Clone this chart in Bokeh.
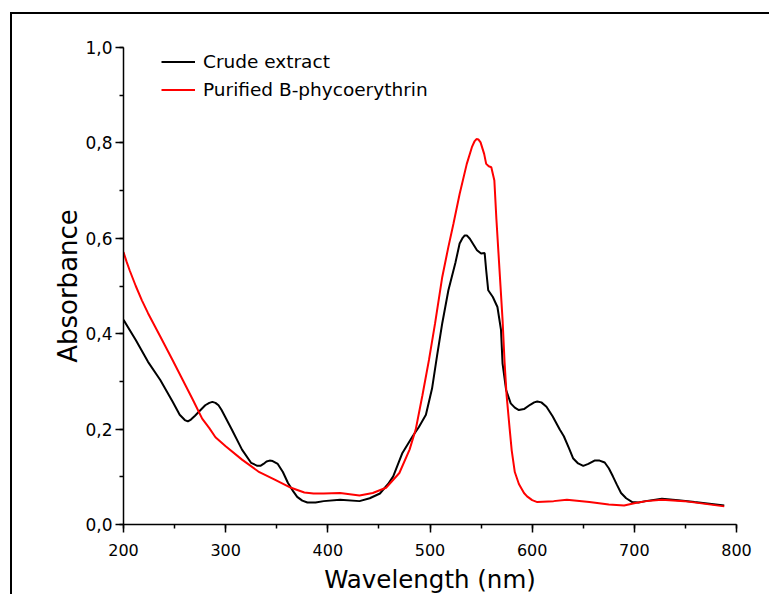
from bokeh.plotting import figure
from bokeh.models import Range1d, SingleIntervalTicker, CustomJSTickFormatter, Legend, LegendItem
from bokeh.embed import file_html
from bokeh.resources import INLINE

# Crude extract spectrum
crude_nm = [200, 212, 224, 236, 248, 255, 260, 263, 266, 270, 274, 280, 284, 287, 290, 293, 296, 306,
            316, 325, 331, 334, 337, 340, 343, 346, 351, 356, 361, 366, 370, 375, 380, 388, 396, 412,
            431, 441, 451, 459, 464, 473, 483, 489, 496, 502, 507, 512, 518, 525, 529, 532, 534, 536,
            539, 546, 550, 553.5, 555, 557, 561.5, 566, 569.5, 571, 574.5, 579, 583, 587, 592, 598,
            602, 605, 609, 614, 620, 627, 631, 636, 640, 645, 650, 655, 661, 666, 671, 675, 679, 683,
            687, 692, 698, 704, 711, 727, 743, 759, 788]
crude_abs = [0.429, 0.387, 0.341, 0.303, 0.258, 0.230, 0.219, 0.216, 0.220, 0.228, 0.237, 0.250, 0.255,
             0.257, 0.255, 0.250, 0.240, 0.199, 0.157, 0.129, 0.123, 0.123, 0.127, 0.132, 0.134,
             0.133, 0.127, 0.110, 0.087, 0.070, 0.058, 0.050, 0.046, 0.046, 0.049, 0.052, 0.049,
             0.055, 0.065, 0.085, 0.101, 0.150, 0.185, 0.204, 0.230, 0.285, 0.355, 0.422, 0.491,
             0.550, 0.589, 0.601, 0.606, 0.606, 0.599, 0.575, 0.568, 0.569, 0.533, 0.491, 0.477,
             0.456, 0.408, 0.338, 0.282, 0.254, 0.245, 0.240, 0.242, 0.251, 0.256, 0.258, 0.256,
             0.247, 0.227, 0.199, 0.185, 0.160, 0.139, 0.128, 0.123, 0.127, 0.134, 0.134, 0.130,
             0.118, 0.101, 0.083, 0.066, 0.055, 0.047, 0.046, 0.049, 0.054, 0.051, 0.047, 0.040]

# Purified B-phycoerythrin spectrum
pure_nm = [200, 203, 206, 212, 218, 224, 236, 248, 258, 268, 277, 284, 290, 300, 316, 332, 348, 364, 377,
           386, 396, 412, 431, 444, 457, 470, 480, 486, 492.5, 499, 505, 512, 518, 523, 529, 536, 541,
           543.5, 545.5, 547.5, 549.5, 553, 555, 557.5, 560, 563, 565, 567, 569, 571, 573, 575, 578,
           580, 583, 587, 592, 595, 600, 605, 621, 634, 656, 675, 690, 701, 712, 727, 749, 788]
pure_abs = [0.571, 0.551, 0.533, 0.500, 0.470, 0.443, 0.394, 0.345, 0.303, 0.261, 0.222, 0.202, 0.183,
            0.164, 0.136, 0.111, 0.094, 0.077, 0.067, 0.065, 0.065, 0.066, 0.061, 0.066, 0.077,
            0.108, 0.157, 0.199, 0.270, 0.345, 0.422, 0.519, 0.582, 0.631, 0.693, 0.756, 0.791,
            0.803, 0.808, 0.807, 0.801, 0.777, 0.756, 0.751, 0.749, 0.721, 0.640, 0.570, 0.500,
            0.430, 0.340, 0.270, 0.200, 0.155, 0.110, 0.085, 0.066, 0.059, 0.051, 0.047, 0.049,
            0.052, 0.047, 0.042, 0.040, 0.045, 0.049, 0.052, 0.049, 0.038]

series_names = ["Crude extract", "Purified B-phycoerythrin"]
x_label = "Wavelength (nm)"
y_label = "Absorbance"

FONT = "DejaVu Sans"

p = figure(width=759, height=582, output_backend="svg", toolbar_location=None,
           x_range=Range1d(200, 800), y_range=Range1d(0, 1.0),
           min_border_left=111, min_border_right=35, min_border_top=33, min_border_bottom=71)
p.styles = {"border-left": "2px solid black", "border-top": "2px solid black",
            "margin-left": "10px", "margin-top": "12px"}
p.outline_line_color = None
p.xgrid.visible = False
p.ygrid.visible = False

r1 = p.line(crude_nm, crude_abs, line_color="black", line_width=2)
r2 = p.line(pure_nm, pure_abs, line_color="red", line_width=2)

fmt = CustomJSTickFormatter(code="return tick.toFixed(1).replace('.', ',');")
p.xaxis.ticker = SingleIntervalTicker(interval=100, num_minor_ticks=2)
p.yaxis.ticker = SingleIntervalTicker(interval=0.2, num_minor_ticks=2)
p.yaxis.formatter = fmt

for ax in (p.xaxis[0], p.yaxis[0]):
    ax.axis_line_width = 1.5
    ax.major_tick_line_width = 1.5
    ax.minor_tick_line_width = 1.5
    ax.major_tick_out = 8
    ax.major_tick_in = 0
    ax.minor_tick_out = 4
    ax.minor_tick_in = 0
    ax.major_label_text_font = FONT
    ax.major_label_text_color = "black"
    ax.axis_label_text_font = FONT
    ax.axis_label_text_font_style = "normal"
    ax.axis_label_text_color = "black"

p.xaxis.major_label_text_font_size = "16px"
p.yaxis.major_label_text_font_size = "17px"
p.xaxis.axis_label_text_font_size = "24.5px"
p.yaxis.axis_label_text_font_size = "26px"
p.xaxis.axis_label = x_label
p.yaxis.axis_label = y_label
p.xaxis.major_label_standoff = 11
p.yaxis.major_label_standoff = 3
p.xaxis.axis_label_standoff = 6
p.yaxis.axis_label_standoff = -1

legend = Legend(items=[LegendItem(label=series_names[0], renderers=[r1]),
                       LegendItem(label=series_names[1], renderers=[r2])],
                location=(38, 422))
legend.label_text_font = FONT
legend.label_text_font_size = "18.5px"
legend.label_text_color = "black"
legend.label_height = 25
legend.glyph_height = 25
legend.glyph_width = 34
legend.label_standoff = 8
legend.spacing = 3
legend.padding = 0
legend.margin = 0
legend.border_line_color = None
legend.background_fill_alpha = 0
p.add_layout(legend)

open("out.html", "w").write(file_html(p, INLINE))
